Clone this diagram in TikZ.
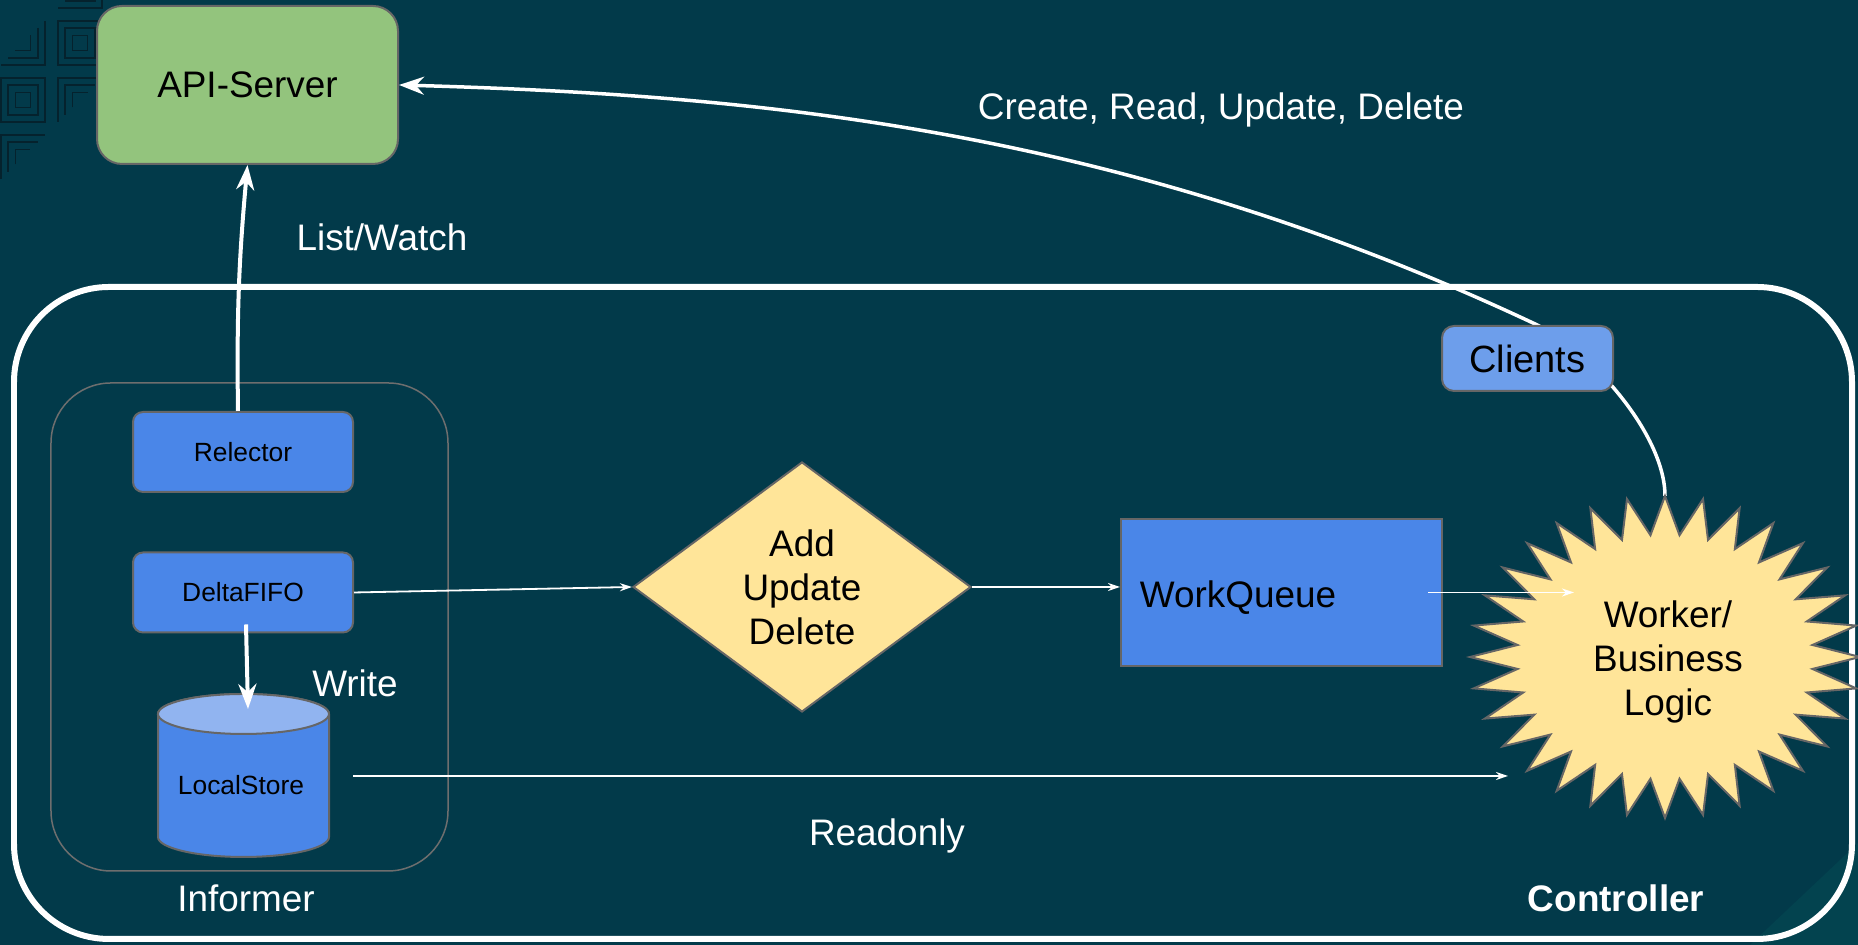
\documentclass[tikz,border=0pt]{standalone}
\usepackage{fontspec}
\setmainfont{Liberation Sans}
\usetikzlibrary{arrows.meta,shapes.geometric}

\definecolor{bgteal}{HTML}{023A4A}
\definecolor{patline}{HTML}{05222D}
\definecolor{cornerlight}{HTML}{03434F}
\definecolor{apigreen}{HTML}{93C47D}
\definecolor{nodeblue}{HTML}{4A86E8}
\definecolor{clientblue}{HTML}{6D9EEB}
\definecolor{topblue}{HTML}{91B4F0}
\definecolor{paleyellow}{HTML}{FFE599}
\definecolor{edgegray}{HTML}{666666}
\definecolor{framegray}{HTML}{6E6E6E}

\newcommand{\mainsize}{\fontsize{10.5}{12.5}\selectfont}
\newcommand{\partsize}{\fontsize{7.5}{9}\selectfont}

\begin{document}
\begin{tikzpicture}[
        srvbox/.style={draw=edgegray, line width=0.02cm, text=black},
        partbox/.style={srvbox, fill=nodeblue, rounded corners=0.1cm,
            minimum width=2.2cm, minimum height=0.8cm, font=\partsize},
        whitetext/.style={text=white, font=\mainsize},
        flow/.style={draw=white, line width=0.018cm,
            -{Stealth[length=0.12cm, width=0.08cm]}},
        bigflow/.style={draw=white, line width=0.04cm,
            -{Stealth[length=0.25cm, width=0.18cm]}},
        callflow/.style={draw=white, line width=0.035cm,
            -{Stealth[length=0.25cm, width=0.18cm]}}
    ]
        \useasboundingbox (0,0) rectangle (18.58,9.45);
        \fill[bgteal] (0,0) rectangle (18.58,9.45);
        \fill[cornerlight] (17.50,0) -- (18.58,0) -- (18.58,1.02) -- cycle;

        % Узор в левом верхнем углу.
        \begin{scope}[draw=patline, line width=0.015cm]
            \foreach \cx/\cy in {0.80/9.02, 0.23/8.45}
                \foreach \h in {0.075,0.15,0.22}
                    \draw (\cx-\h,\cy-\h) rectangle (\cx+\h,\cy+\h);
            \foreach \cx/\cy in {0.23/9.02, 0.80/9.59}
                \foreach \h in {0.075,0.15,0.22}
                    \draw (\cx+\h,\cy+\h) -- (\cx+\h,\cy-\h) -- (\cx-\h,\cy-\h);
            \foreach \cx/\cy in {0.80/8.45, 0.23/7.88}
                \foreach \h in {0.075,0.15,0.22}
                    \draw (\cx-\h,\cy-\h) -- (\cx-\h,\cy+\h) -- (\cx+\h,\cy+\h);
        \end{scope}

        % Контроллер и информер.
        \draw[white, line width=0.06cm, rounded corners=0.95cm]
            (0.14,0.06) rectangle (18.52,6.58);
        \draw[framegray, line width=0.015cm, rounded corners=0.6cm]
            (0.51,0.74) rectangle (4.48,5.62);

        % API-сервер.
        \node[srvbox, fill=apigreen, rounded corners=0.25cm,
            minimum width=3.01cm, minimum height=1.58cm, font=\mainsize]
            (api) at (2.475,8.60) {API-Server};

        % Части информера.
        \node[partbox] (relector) at (2.43,4.93) {Relector};
        \node[partbox] (delta) at (2.43,3.525) {DeltaFIFO};

        \filldraw[fill=nodeblue, draw=edgegray, line width=0.02cm]
            (1.58,2.31) -- (1.58,1.08)
            arc[start angle=180, end angle=360, x radius=0.855cm, y radius=0.2cm]
            -- (3.29,2.31)
            arc[start angle=0, end angle=180, x radius=0.855cm, y radius=0.2cm]
            -- cycle;
        \filldraw[fill=topblue, draw=edgegray, line width=0.02cm]
            (2.435,2.31) ellipse (0.855cm and 0.2cm);
        \node[font=\partsize] (store) at (2.41,1.60) {LocalStore};
        \coordinate (storetop) at (2.48,2.36);

        % Разбор событий и очередь.
        \node[srvbox, diamond, fill=paleyellow, aspect=1.35, inner sep=0pt,
            minimum width=3.38cm, minimum height=2.5cm,
            align=center, font=\mainsize]
            (add) at (8.02,3.58) {Add\\Update\\Delete};
        \node[srvbox, fill=nodeblue, minimum width=3.21cm,
            minimum height=1.47cm, font=\mainsize]
            (queue) at (12.815,3.525)
            {\raisebox{-0.05cm}[\height][\depth]{WorkQueue}\hspace*{0.87cm}};

        % Вызов API через клиентов.
        \coordinate (worktop) at (16.65,4.49);
        \draw[callflow] (worktop)
            .. controls (16.65,5.09) and (15.93,5.94) .. (15.33,6.22)
            .. controls (11.13,8.19) and (7.49,8.50) .. (api.east);
        \node[srvbox, fill=clientblue, rounded corners=0.12cm,
            minimum width=1.71cm, minimum height=0.65cm,
            font=\fontsize{10.8}{13}\selectfont]
            (clients) at (15.275,5.865) {Clients};

        % Обработчик.
        \filldraw[fill=paleyellow, draw=edgegray, line width=0.02cm]
            (16.65,4.49)
            \foreach \i [evaluate=\i as \r using {ifthenelse(mod(\i,2),0.76,1)}]
                in {1,...,63} {
                -- ({16.65+1.95*\r*cos(90+5.625*\i)},
                    {2.88+1.61*\r*sin(90+5.625*\i)})
            } -- cycle;
        \node[align=center, font=\mainsize] (worker) at (16.68,2.83)
            {Worker/\\Business\\Logic};
        \coordinate (workin) at (15.74,3.525);
        \coordinate (readfrom) at (3.53,1.69);
        \coordinate (readto) at (15.08,1.69);

        % Стрелки.
        \draw[bigflow] ([xshift=-0.05cm]relector.north)
            to[bend left=3] (api.south);
        \draw[bigflow] ([xshift=0.03cm, yshift=0.09cm]delta.south)
            -- (storetop);
        \draw[flow] (delta.east) -- (add.west);
        \draw[flow] (add.east) -- (add.east -| queue.west);
        \draw[flow] ([xshift=-0.15cm]queue.east) -- (workin);
        \draw[flow] (readfrom) -- (readto);

        % Подписи.
        \node[whitetext] (crud) at (12.21,8.35) {Create, Read, Update, Delete};
        \node[whitetext] (listwatch) at (3.82,7.08) {List/Watch};
        \node[whitetext] (write) at (3.55,2.62) {Write};
        \node[whitetext] (readonly) at (8.87,1.095) {Readonly};
        \node[whitetext] (informer) at (2.46,0.47) {Informer};
        \node[whitetext, font=\mainsize\bfseries] (controller) at (16.16,0.47)
            {Controller};
    \end{tikzpicture}
\end{document}
